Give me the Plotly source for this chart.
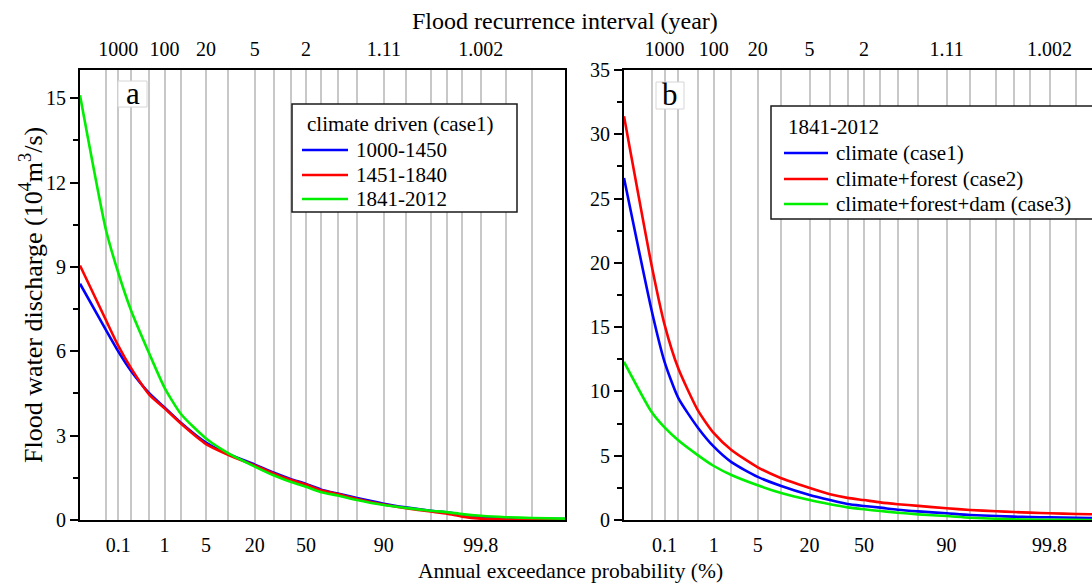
from statistics import NormalDist
import plotly.graph_objects as go

# ---- data ---------------------------------------------------------------
# annual exceedance probability (%) of each computed point
prob = [0.01, 0.05, 0.1, 0.2, 0.5, 1, 2, 5, 10, 20, 30, 40, 50, 60, 70, 80,
        90, 95, 98, 99, 99.5, 99.8, 99.95, 99.99, 99.999]

# panel a: climate driven (case1), three periods  (10^4 m^3/s)
q_1000_1450 = [8.4, 6.75, 6.0, 5.3, 4.5, 4.0, 3.45, 2.75, 2.35, 1.97, 1.68, 1.46,
               1.28, 1.08, 0.94, 0.78, 0.58, 0.45, 0.33, 0.27, 0.18, 0.10, 0.06,
               0.04, 0.03]
q_1451_1840 = [9.05, 7.1, 6.2, 5.4, 4.45, 3.97, 3.42, 2.7, 2.32, 1.94, 1.65, 1.43,
               1.26, 1.06, 0.92, 0.75, 0.55, 0.42, 0.30, 0.22, 0.12, 0.05, 0.02,
               0.01, 0.0]
q_1841_2012 = [15.1, 10.3, 8.8, 7.45, 5.9, 4.7, 3.76, 2.9, 2.38, 1.9, 1.58, 1.36,
               1.18, 0.99, 0.87, 0.71, 0.53, 0.43, 0.33, 0.28, 0.21, 0.15, 0.10,
               0.07, 0.05]

# panel b: 1841-2012 under three scenarios
q_case1 = [26.6, 16.3, 12.3, 9.5, 7.2, 5.7, 4.5, 3.35, 2.65, 1.95, 1.55, 1.24,
           1.09, 0.96, 0.80, 0.67, 0.52, 0.39, 0.31, 0.26, 0.23, 0.21, 0.18, 0.14,
           0.12]
q_case2 = [31.4, 19.8, 15.2, 11.8, 8.55, 6.75, 5.45, 4.1, 3.25, 2.5, 2.0, 1.72,
           1.55, 1.37, 1.23, 1.10, 0.91, 0.78, 0.68, 0.62, 0.57, 0.52, 0.47, 0.43,
           0.40]
q_case3 = [12.3, 8.4, 7.2, 6.2, 5.05, 4.2, 3.5, 2.7, 2.1, 1.55, 1.22, 0.98,
           0.83, 0.70, 0.57, 0.44, 0.31, 0.18, 0.10, 0.05, 0.03, 0.02, 0.01, 0.0,
           0.0]

# axis labelling
label_prob = [0.1, 1, 5, 20, 50, 90, 99.8]
bottom_text = ["0.1", "1", "5", "20", "50", "90", "99.8"]
top_text = ["1000", "100", "20", "5", "2", "1.11", "1.002"]
grid_prob = [0.05, 0.1, 0.2, 0.5, 1, 2, 5, 10, 20, 30, 40, 50, 60, 70, 80, 90,
             95, 98, 99, 99.5, 99.8, 99.95, 99.99]

legend_a_title = "climate driven (case1)"
legend_a_names = ["1000-1450", "1451-1840", "1841-2012"]
legend_b_title = "1841-2012"
legend_b_names = ["climate (case1)", "climate+forest (case2)",
                  "climate+forest+dam (case3)"]
colors = ["#0000ff", "#ff0000", "#00ee00"]

# ---- helpers ------------------------------------------------------------
nd = NormalDist()


def zpos(p_list):
    """normal-probability-paper coordinate of percentages"""
    return [nd.inv_cdf(p / 100.0) for p in p_list]


FONT = "Liberation Serif, Times New Roman, serif"
W, H = 1092, 583
ZMIN = nd.inv_cdf(0.0001)
ZMAX_A = nd.inv_cdf(0.99999)
AX_A = (80, 565)      # pixel span of panel a
AX_B = (624, W)       # panel b runs off the right edge
PX_PER_Z_B = 64.5
ZMAX_B = ZMIN + (AX_B[1] - AX_B[0]) / PX_PER_Z_B
Y_TOP, Y_BOT = 70, 520


def px(xp):
    return xp / W


def py(yp):
    return 1 - yp / H


x = zpos(prob)
ydom = [py(Y_BOT), py(Y_TOP)]

fig = go.Figure()

curve = dict(width=2.6, shape="spline", smoothing=0.6)

for name, q, c in zip(legend_a_names, [q_1000_1450, q_1451_1840, q_1841_2012],
                      colors):
    fig.add_trace(go.Scatter(x=x, y=q, name=name, mode="lines",
                             line=dict(color=c, **curve),
                             xaxis="x", yaxis="y", showlegend=False))

for name, q, c in zip(legend_b_names, [q_case1, q_case2, q_case3], colors):
    fig.add_trace(go.Scatter(x=x, y=q, name=name, mode="lines",
                             line=dict(color=c, **curve),
                             xaxis="x2", yaxis="y2", showlegend=False))

# carriers for the recurrence-interval axes on top
for xa, ya in [("x3", "y"), ("x4", "y2")]:
    fig.add_trace(go.Scatter(x=zpos(label_prob), y=[None] * len(label_prob),
                             xaxis=xa, yaxis=ya, showlegend=False,
                             hoverinfo="skip"))

tickfont = dict(family=FONT, size=20, color="black")
grid_minor = dict(tickmode="array", tickvals=zpos(grid_prob), showgrid=True,
                  gridcolor="#c8c8c8", gridwidth=1.5, ticks="")


def bottom_axis(domain, rng):
    return dict(domain=domain, range=rng, tickmode="array",
                tickvals=zpos(label_prob), ticktext=bottom_text,
                showgrid=False, showline=True, linecolor="black", linewidth=2,
                mirror=True, ticks="", tickfont=tickfont, zeroline=False,
                ticklabelstandoff=6, minor=grid_minor, automargin=False,
                fixedrange=True)


def top_axis(over, rng):
    return dict(overlaying=over, side="top", range=rng, tickmode="array",
                tickvals=zpos(label_prob), ticktext=top_text, showgrid=False,
                showline=False, ticks="", tickfont=tickfont, zeroline=False,
                ticklabelstandoff=9, automargin=False, fixedrange=True)


def left_axis(anchor, rng, dtick, mirror):
    return dict(domain=ydom, anchor=anchor, range=rng, tickmode="linear",
                tick0=0, dtick=dtick, showgrid=False, showline=True,
                linecolor="black", linewidth=2, mirror=mirror,
                ticks="outside", ticklen=8, tickwidth=2, tickcolor="black",
                minor=dict(ticks="outside", ticklen=5, tickwidth=2,
                           tickcolor="black", dtick=dtick / 2, tick0=0,
                           showgrid=False),
                tickfont=tickfont, zeroline=False, automargin=False,
                fixedrange=True)


fig.update_layout(
    width=W, height=H, template="none", showlegend=False,
    margin=dict(l=0, r=0, t=0, b=0, autoexpand=False),
    paper_bgcolor="white", plot_bgcolor="white",
    font=dict(family=FONT, size=20, color="black"),
    xaxis=dict(anchor="y", **bottom_axis([px(AX_A[0]), px(AX_A[1])],
                                         [ZMIN, ZMAX_A])),
    xaxis2=dict(anchor="y2", **bottom_axis([px(AX_B[0]), 1.0], [ZMIN, ZMAX_B])),
    xaxis3=dict(anchor="y", **top_axis("x", [ZMIN, ZMAX_A])),
    xaxis4=dict(anchor="y2", **top_axis("x2", [ZMIN, ZMAX_B])),
    yaxis=left_axis("x", [0, 16], 3, True),
    yaxis2=left_axis("x2", [0, 35], 5, False),
)

shapes = []
LEG_FONT = dict(family=FONT, size=21, color="black")


def draw_legend(box, title, title_xy, names, row_y, line_x, text_x):
    x0, y0, x1, y1 = box
    shapes.append(dict(type="rect", xref="paper", yref="paper",
                       x0=px(x0), x1=px(x1), y0=py(y1), y1=py(y0),
                       line=dict(color="#1a1a1a", width=1.5),
                       fillcolor="white", layer="above"))
    fig.add_annotation(text=title, x=px(title_xy[0]), y=py(title_xy[1]),
                       xref="paper", yref="paper", xanchor="left",
                       yanchor="middle", showarrow=False, font=LEG_FONT)
    for name, c, yy in zip(names, colors, row_y):
        shapes.append(dict(type="line", xref="paper", yref="paper",
                           x0=px(line_x[0]), x1=px(line_x[1]),
                           y0=py(yy), y1=py(yy),
                           line=dict(color=c, width=2.6), layer="above"))
        fig.add_annotation(text=name, x=px(text_x), y=py(yy), xref="paper",
                           yref="paper", xanchor="left", yanchor="middle",
                           showarrow=False, font=LEG_FONT)


draw_legend((292, 104, 517, 212), legend_a_title, (305, 124),
            legend_a_names, [150, 175, 199], (302, 348), 354)
draw_legend((771, 106, 1100, 219), legend_b_title, (786, 127),
            legend_b_names, [153, 179, 204], (784, 828), 834)

# panel letters in light boxes
for letter, (bx0, by0, bx1, by1) in [("a", (118, 81, 147, 107)),
                                     ("b", (656, 82, 684, 109))]:
    shapes.append(dict(type="rect", xref="paper", yref="paper",
                       x0=px(bx0), x1=px(bx1), y0=py(by1), y1=py(by0),
                       line=dict(color="#d6d6d6", width=1),
                       fillcolor="white", layer="above"))
    fig.add_annotation(text=letter, x=px((bx0 + bx1) / 2),
                       y=py((by0 + by1) / 2 - 1), xref="paper", yref="paper",
                       xanchor="center", yanchor="middle", showarrow=False,
                       font=dict(family=FONT, size=31, color="black"))

fig.update_layout(shapes=shapes)

# axis titles
fig.add_annotation(text="Flood recurrence interval (year)", x=px(565),
                   y=py(21), xref="paper", yref="paper", xanchor="center",
                   yanchor="middle", showarrow=False,
                   font=dict(family=FONT, size=24))
fig.add_annotation(text="Annual exceedance probability (%)", x=px(570),
                   y=py(571), xref="paper", yref="paper", xanchor="center",
                   yanchor="middle", showarrow=False,
                   font=dict(family=FONT, size=21.5))
fig.add_annotation(text="Flood water discharge (10<sup>4</sup>m<sup>3</sup>/s)",
                   x=px(31), y=py(295), xref="paper", yref="paper",
                   xanchor="center", yanchor="middle", showarrow=False,
                   textangle=-90, font=dict(family=FONT, size=26))

fig.write_html("out.html")
